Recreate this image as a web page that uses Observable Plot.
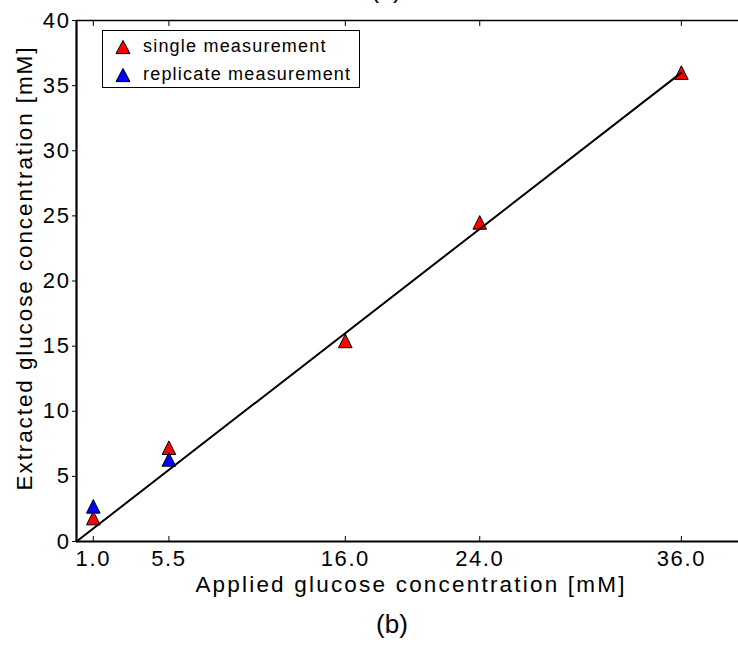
<!DOCTYPE html>
<html>
<head>
<meta charset="utf-8">
<script src="https://cdn.jsdelivr.net/npm/d3@7"></script>
<script src="https://cdn.jsdelivr.net/npm/@observablehq/plot@0.6"></script>
<style>
  html, body { margin: 0; padding: 0; background: #fff; }
  #wrap { position: relative; width: 738px; height: 646px; overflow: hidden; font-family: "Liberation Sans", Arial, sans-serif; }
  #caption { position: absolute; left: 392px; top: 608px; transform: translateX(-50%); font-size: 26px; line-height: 32px; white-space: nowrap; }
  #legend { position: absolute; left: 102px; top: 30px; width: 256px; height: 56px; border: 1.4px solid #000; background: #fff; }
  .lg-row { position: absolute; left: 0; height: 20px; font-size: 18px; letter-spacing: 1.2px; white-space: nowrap; }
  .lg-row svg { position: absolute; left: 11px; top: 2px; }
  .lg-row span { position: absolute; left: 40px; top: -1px; }
</style>
</head>
<body>
<div id="wrap">
  <div id="chart"></div>
  <div id="legend"></div>
  <div id="caption">(b)</div>
</div>
<script>
// ---- data ----
const appliedSingle = [1.0, 5.5, 16.0, 24.0, 36.0];
const extractedSingle = [1.8, 7.2, 15.4, 24.5, 36.0];
const appliedReplicate = [1.0, 5.5];
const extractedReplicate = [2.7, 6.3];
const fitApplied = [0, 36];
const fitExtracted = [0, 36];
const xTicks = [1.0, 5.5, 16.0, 24.0, 36.0];
const yTicks = [0, 5, 10, 15, 20, 25, 30, 35, 40];
const seriesNames = ["single measurement", "replicate measurement"];
const seriesColors = ["#ff0000", "#0000ff"];
const xLabel = "Applied glucose concentration [mM]";
const yLabel = "Extracted glucose concentration [mM]";

const single = appliedSingle.map((x, i) => ({x, y: extractedSingle[i]}));
const replicate = appliedReplicate.map((x, i) => ({x, y: extractedReplicate[i]}));
const fit = fitApplied.map((x, i) => ({x, y: fitExtracted[i]}));

// matplotlib-like upward triangle centred on its bounding box
const triangleUp = {
  draw(context, size) {
    const s = Math.sqrt(size / Math.PI);
    context.moveTo(0, -s);
    context.lineTo(s, s);
    context.lineTo(-s, s);
    context.closePath();
  }
};

const FONT = "Liberation Sans, Arial, sans-serif";

const chart = Plot.plot({
  width: 738,
  height: 600,
  marginLeft: 76,
  marginRight: 0,
  marginTop: 20,
  marginBottom: 59,
  style: {fontFamily: FONT, fontSize: "21px", background: "#fff", overflow: "hidden"},
  x: {domain: [0, 39.4]},
  y: {domain: [0, 40]},
  marks: [
    Plot.axisX(xTicks, {anchor: "bottom", tickSize: 0, tickPadding: 9, tickFormat: d3.format(".1f"), label: null, fill: "#000"}),
    Plot.axisX(xTicks, {anchor: "bottom", tickSize: 5, dy: -5, text: null, label: null, stroke: "#000"}),
    Plot.axisX(xTicks, {anchor: "top", tickSize: 5, dy: 5, text: null, label: null, stroke: "#000"}),
    Plot.axisY(yTicks, {anchor: "left", tickSize: 4, tickPadding: 2, tickFormat: d3.format("d"), label: null, fill: "#000", stroke: "#000"}),
    Plot.dot(single, {x: "x", y: "y", symbol: triangleUp, r: 6.8, fill: seriesColors[0], stroke: "#000", strokeWidth: 1}),
    Plot.dot(replicate, {x: "x", y: "y", symbol: triangleUp, r: 6.8, fill: seriesColors[1], stroke: "#000", strokeWidth: 1}),
    Plot.line(fit, {x: "x", y: "y", stroke: "#000", strokeWidth: 2}),
    Plot.ruleY([40], {stroke: "#000", strokeWidth: 1.5}),
    Plot.ruleX([0], {stroke: "#000", strokeWidth: 2.2}),
    Plot.ruleY([0], {stroke: "#000", strokeWidth: 2.2})
  ]
});

const svg = d3.select(chart);
svg.selectAll("[aria-label='x-axis tick label'], [aria-label='y-axis tick label']")
  .attr("font-size", null).style("font-size", "22px");
svg.selectAll("[aria-label='x-axis tick label'] text, [aria-label='y-axis tick label'] text")
  .style("font-size", "22px").style("letter-spacing", "1.6px");

svg.append("text")
  .attr("x", 411).attr("y", 592)
  .attr("text-anchor", "middle")
  .style("font-family", FONT).style("font-size", "22.5px").style("letter-spacing", "2.2px")
  .text(xLabel);
svg.append("text")
  .attr("transform", "translate(32,268) rotate(-90)")
  .attr("text-anchor", "middle")
  .style("font-family", FONT).style("font-size", "22.5px").style("letter-spacing", "1.9px")
  .text(yLabel);
// remnant of the panel label above (cut off at the top edge in the reference)
svg.append("text")
  .attr("x", 386).attr("y", -2)
  .attr("text-anchor", "middle")
  .style("font-family", FONT).style("font-size", "25px")
  .text("(a)");

document.getElementById("chart").appendChild(chart);

const legend = document.getElementById("legend");
seriesNames.forEach((name, i) => {
  const row = document.createElement("div");
  row.className = "lg-row";
  row.style.top = (i === 0 ? 6 : 34) + "px";
  const s = 7;
  row.innerHTML = `<svg width="18" height="16" viewBox="-9 -8 18 16"><path d="M0,${-6.6}L${s},${6.6}L${-s},${6.6}Z" fill="${seriesColors[i]}" stroke="#000" stroke-width="1"/></svg><span>${name}</span>`;
  legend.appendChild(row);
});
</script>
</body>
</html>
